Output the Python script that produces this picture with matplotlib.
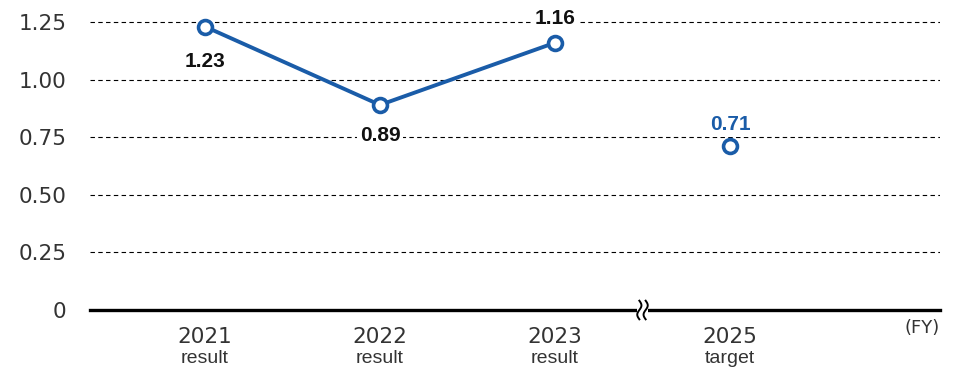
import numpy as np
import matplotlib
matplotlib.use("Agg")
import matplotlib.pyplot as plt
from matplotlib import transforms

years = ["2021", "2022", "2023", "2025"]
kinds = ["result", "result", "result", "target"]
values = [1.23, 0.89, 1.16, 0.71]
value_labels = ["1.23", "0.89", "1.16", "0.71"]
yticks = [0, 0.25, 0.50, 0.75, 1.00, 1.25]
ytick_labels = ["0", "0.25", "0.50", "0.75", "1.00", "1.25"]

blue = "#1a5ca8"
W, H = 960, 382
fig = plt.figure(figsize=(9.6, 3.82), dpi=100)
ax = fig.add_axes([90 / W, (H - 310) / H, 850 / W, 310 / H])
x = np.arange(len(years))
ax.set_xlim(-115 / 175, 3 + 210 / 175)
ax.set_ylim(0, 1.25 + 22 / 230.4)

for t in yticks[1:]:
    ax.axhline(t, color="black", lw=0.8, ls=(0, (4, 3)), zorder=1)
ax.axhline(0, color="black", lw=2.4, zorder=2, clip_on=False)

ax.plot(x[:3], values[:3], color=blue, lw=2.8, zorder=3)
ax.plot(x, values, ls="none", marker="o", ms=10, mfc="white", mec=blue, mew=2.6, zorder=4)

offsets = [-35, -31, 24, 22]
colors = ["#111111", "#111111", "#111111", blue]
for xi, v, lab, off, c in zip(x, values, value_labels, offsets, colors):
    ax.annotate(lab, (xi, v), xytext=(0, off), textcoords="offset pixels",
                ha="center", va="center", fontsize=15, fontweight="bold",
                family="Liberation Sans", color=c, zorder=5,
                bbox=dict(boxstyle="square,pad=0.15", fc="white", ec="none"))

ax.set_yticks(yticks)
ax.set_yticklabels(ytick_labels, fontsize=15.5, family="DejaVu Sans", color="#333333")
ax.tick_params(axis="y", length=0, pad=17)
ax.set_xticks([])
for s in ax.spines.values():
    s.set_visible(False)

trans = transforms.blended_transform_factory(ax.transData, ax.transAxes)
for xi, yr, k in zip(x, years, kinds):
    ax.text(xi, -0.055, yr, transform=trans, ha="center", va="top", fontsize=15.5,
            family="DejaVu Sans", color="#333333")
    ax.text(xi, -0.13, k, transform=trans, ha="center", va="top", fontsize=14,
            family="Liberation Sans", color="#333333")
ax.text(1.0, -0.03, "(FY)", transform=ax.transAxes, ha="right", va="top", fontsize=13,
        family="DejaVu Sans", color="#333333")

# axis break mark
bx = 2.5
ax.add_patch(plt.Rectangle((bx - 0.03, -0.02), 0.06, 0.04, transform=trans,
                           fc="white", ec="none", zorder=3, clip_on=False))
tt = np.linspace(-1, 1, 30)
for dx in (-0.018, 0.018):
    xs = bx + dx + 0.012 * np.sin(tt * np.pi)
    ys = tt * 0.03
    ax.plot(xs, ys, transform=trans, color="black", lw=1.4, zorder=4, clip_on=False)

fig.savefig("out.png", dpi=100)
